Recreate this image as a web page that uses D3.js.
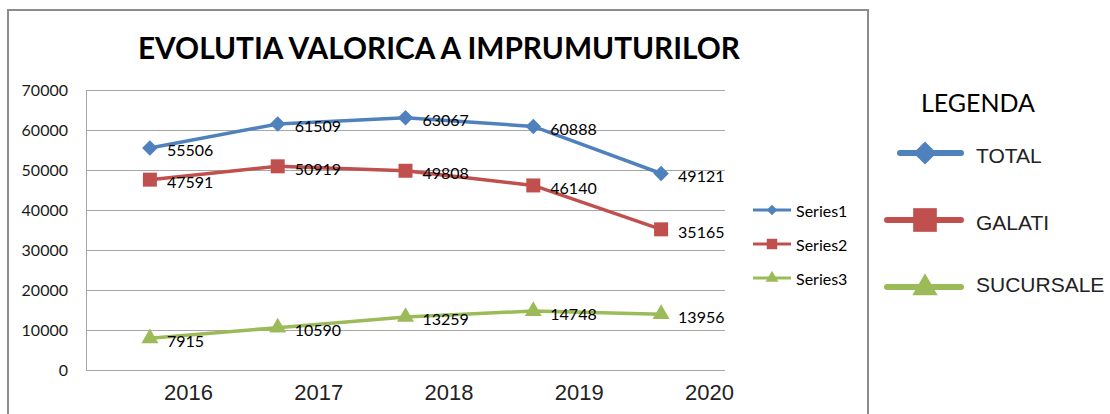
<!DOCTYPE html>
<html>
<head>
<meta charset="utf-8">
<script src="https://cdn.jsdelivr.net/npm/d3@7"></script>
<style>
  body { margin: 0; background: #fff; }
  svg { display: block; }
</style>
</head>
<body>
<div class="chart"></div>
<script>
// data
var years = ["2016", "2017", "2018", "2019", "2020"];
var total = [55506, 61509, 63067, 60888, 49121];
var galati = [47591, 50919, 49808, 46140, 35165];
var sucursale = [7915, 10590, 13259, 14748, 13956];
var seriesNames = ["Series1", "Series2", "Series3"];
var legendNames = ["TOTAL", "GALATI", "SUCURSALE"];
var yTicks = [0, 10000, 20000, 30000, 40000, 50000, 60000, 70000];

var W = 1110, H = 414;
var plot = {left: 86, right: 725, top: 90, bottom: 370};
var colors = ["#4F81BD", "#C0504D", "#9BBB59"];

// square diamond (d3's own diamond is too tall)
var squareDiamond = {
    draw: function(context, size) {
        var r = Math.sqrt(size / 2);
        context.moveTo(0, -r);
        context.lineTo(r, 0);
        context.lineTo(0, r);
        context.lineTo(-r, 0);
        context.closePath();
    }
};
var shapes = [squareDiamond, d3.symbolSquare, d3.symbolTriangle];

var svg = d3.select(".chart").append("svg")
    .attr("width", W)
    .attr("height", H);

// chart frame
svg.append("rect")
    .attr("x", 8).attr("y", 10)
    .attr("width", 860).attr("height", 420)
    .attr("fill", "#fff")
    .attr("stroke", "#8c8c8c")
    .attr("stroke-width", 2);

// title
svg.append("text")
    .attr("x", 439).attr("y", 59)
    .attr("text-anchor", "middle")
    .attr("textLength", 602)
    .attr("lengthAdjust", "spacingAndGlyphs")
    .style("font-family", "Lato, 'Open Sans', sans-serif")
    .style("font-weight", "bold")
    .style("font-size", "30px")
    .style("fill", "#000")
    .text("EVOLUTIA VALORICA A IMPRUMUTURILOR");

// scales
var xBand = d3.scaleBand().domain(years).range([plot.left, plot.right]);
var xMap = function(i) { return xBand(years[i]) + xBand.bandwidth() / 2; };
var xLabel = d3.scalePoint().domain(years).range([188, 709]);
var y = d3.scaleLinear().domain([0, 70000]).range([plot.bottom, plot.top]);

// gridlines
svg.append("g")
  .selectAll("line")
  .data(yTicks)
  .enter().append("line")
    .attr("x1", plot.left).attr("x2", plot.right)
    .attr("y1", function(d) { return y(d) + 0.5; })
    .attr("y2", function(d) { return y(d) + 0.5; })
    .attr("stroke", "#a6a6a6")
    .attr("stroke-width", 1);

// axis line
svg.append("line")
    .attr("x1", plot.left + 0.5).attr("x2", plot.left + 0.5)
    .attr("y1", plot.top).attr("y2", plot.bottom)
    .attr("stroke", "#a6a6a6");

// y axis labels
var yAxis = d3.axisLeft(y)
    .tickValues(yTicks)
    .tickFormat(d3.format("d"))
    .tickSize(0)
    .tickPadding(18);
var yg = svg.append("g")
    .attr("transform", "translate(" + plot.left + ",0)")
    .call(yAxis);
yg.select(".domain").remove();
yg.selectAll("text")
    .style("font-family", "Lato, sans-serif")
    .style("font-size", "16px")
    .style("fill", "#1a1a1a");

// x axis labels (offset from the points, as in the original)
var xAxis = d3.axisBottom(xLabel).tickSize(0).tickPadding(0);
var xg = svg.append("g")
    .attr("transform", "translate(0,384)")
    .call(xAxis);
xg.select(".domain").remove();
xg.selectAll("text")
    .attr("dy", "0.71em")
    .style("font-family", "'Liberation Sans', Arial, sans-serif")
    .style("font-size", "22px")
    .style("fill", "#222");

// series
var allSeries = [total, galati, sucursale];
var line = d3.line()
    .x(function(d, i) { return xMap(i); })
    .y(function(d) { return y(d); });

var markerSize = [120, 196, 125];

allSeries.forEach(function(vals, s) {
    var g = svg.append("g").attr("class", "series");
    g.append("path")
        .datum(vals)
        .attr("d", line)
        .attr("fill", "none")
        .attr("stroke", colors[s])
        .attr("stroke-width", 3.5);
    g.selectAll("path.mark")
        .data(vals)
        .enter().append("path")
        .attr("class", "mark")
        .attr("d", d3.symbol().type(shapes[s]).size(markerSize[s]))
        .attr("transform", function(d, i) { return "translate(" + xMap(i) + "," + y(d) + ")"; })
        .attr("fill", colors[s]);
    g.selectAll("text")
        .data(vals)
        .enter().append("text")
        .attr("x", function(d, i) { return xMap(i) + 17; })
        .attr("y", function(d) { return y(d) + 2; })
        .attr("dominant-baseline", "central")
        .style("font-family", "Lato, sans-serif")
        .style("font-size", "16px")
        .style("fill", "#000")
        .text(function(d) { return d; });
});

// small legend (Series1..3)
var legendY = d3.scalePoint().domain(seriesNames).range([210, 278]);
var smallSize = [55, 110, 70];
var sl = svg.append("g").attr("class", "legend-small");
seriesNames.forEach(function(name, s) {
    var ly = legendY(name);
    sl.append("line")
        .attr("x1", 753).attr("x2", 791)
        .attr("y1", ly).attr("y2", ly)
        .attr("stroke", colors[s])
        .attr("stroke-width", 3);
    sl.append("path")
        .attr("d", d3.symbol().type(shapes[s]).size(smallSize[s]))
        .attr("transform", "translate(772," + ly + ")")
        .attr("fill", colors[s]);
    sl.append("text")
        .attr("x", 796).attr("y", ly)
        .attr("dominant-baseline", "central")
        .style("font-family", "Lato, sans-serif")
        .style("font-size", "16px")
        .style("fill", "#000")
        .text(name);
});

// big legend (LEGENDA)
svg.append("text")
    .attr("x", 978).attr("y", 112)
    .attr("text-anchor", "middle")
    .style("font-family", "Lato, sans-serif")
    .style("font-size", "25px")
    .style("fill", "#000")
    .text("LEGENDA");

var bigY = d3.scalePoint().domain(legendNames).range([153, 287]);
var bl = svg.append("g").attr("class", "legend-big");
var bigStart = [900, 887, 887];
var bigSize = [270, 560, 280];
legendNames.forEach(function(name, s) {
    var ly = bigY(name);
    bl.append("line")
        .attr("x1", bigStart[s]).attr("x2", 961)
        .attr("y1", ly).attr("y2", ly)
        .attr("stroke", colors[s])
        .attr("stroke-width", 6)
        .attr("stroke-linecap", "round");
    bl.append("path")
        .attr("d", d3.symbol().type(shapes[s]).size(bigSize[s]))
        .attr("transform", "translate(925," + (ly + (s === 2 ? 1 : 0)) + ")")
        .attr("fill", colors[s]);
    bl.append("text")
        .attr("x", 976).attr("y", ly + (s === 2 ? -3 : 2))
        .attr("dominant-baseline", "central")
        .style("font-family", "'Liberation Sans', Arial, sans-serif")
        .style("font-size", "21px")
        .style("fill", "#222")
        .text(name);
});
</script>
</body>
</html>
